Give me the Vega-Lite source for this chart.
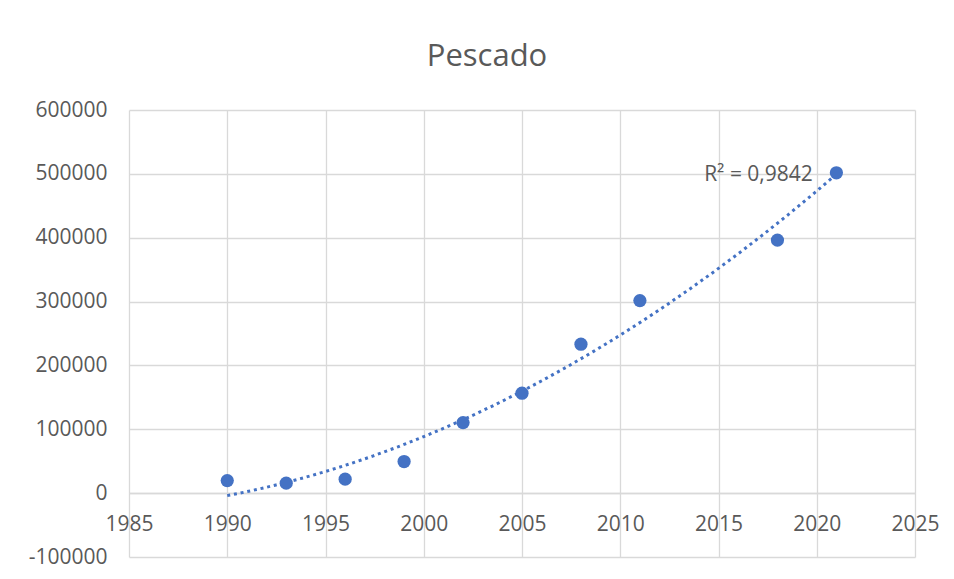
{
  "$schema": "https://vega.github.io/schema/vega-lite/v6.json",
  "width": 786,
  "height": 447,
  "autosize": "none",
  "padding": {"left": 129, "top": 110, "right": 39, "bottom": 22},
  "background": "white",
  "config": {
    "font": "Open Sans",
    "view": {"stroke": null},
    "axis": {
      "labelFont": "Open Sans",
      "labelFontSize": 21,
      "labelColor": "#595959",
      "gridColor": "#d9d9d9",
      "gridWidth": 1.3,
      "domainColor": "#d9d9d9",
      "domainWidth": 1.3,
      "ticks": false,
      "title": null
    }
  },
  "title": {
    "text": "Pescado",
    "font": "Open Sans",
    "fontSize": 31,
    "fontWeight": "normal",
    "color": "#595959",
    "anchor": "middle",
    "dx": -35,
    "offset": 26
  },
  "datasets": {
    "pts": [
      {"year": 1990, "value": 19700},
      {"year": 1993, "value": 15600},
      {"year": 1996, "value": 21900},
      {"year": 1999, "value": 49500},
      {"year": 2002, "value": 110500},
      {"year": 2005, "value": 156500},
      {"year": 2008, "value": 233200},
      {"year": 2011, "value": 301500},
      {"year": 2018, "value": 396300},
      {"year": 2021, "value": 501700}
    ],
    "lbl": [
      {"year": 2019.8, "value": 498000, "label": "R² = 0,9842"}
    ]
  },
  "layer": [
    {
      "data": {"name": "pts"},
      "transform": [
        {"regression": "value", "on": "year", "method": "poly", "order": 2, "extent": [1990, 2021]}
      ],
      "mark": {"type": "line", "color": "#4472C4", "strokeWidth": 3, "strokeDash": [3, 3.8], "strokeCap": "butt"},
      "encoding": {
        "x": {
          "field": "year", "type": "quantitative",
          "scale": {"domain": [1985, 2025], "nice": false, "zero": false},
          "axis": {"values": [1985, 1990, 1995, 2000, 2005, 2010, 2015, 2020, 2025], "format": "d", "offset": -64, "labelPadding": 20, "labelFlush": false, "labelOverlap": false}
        },
        "y": {
          "field": "value", "type": "quantitative",
          "scale": {"domain": [-100000, 600000], "nice": false, "zero": false},
          "axis": {"values": [-100000, 0, 100000, 200000, 300000, 400000, 500000, 600000], "format": "d", "labelExpr": "replace(datum.label, '\u2212', '-')", "labelPadding": 22, "domain": false, "labelFlush": false, "labelOverlap": false}
        }
      }
    },
    {
      "data": {"name": "pts"},
      "mark": {"type": "point", "filled": true, "opacity": 1, "color": "#4472C4", "size": 175, "shape": "circle"},
      "encoding": {
        "x": {"field": "year", "type": "quantitative"},
        "y": {"field": "value", "type": "quantitative"}
      }
    },
    {
      "data": {"name": "lbl"},
      "mark": {"type": "text", "align": "right", "baseline": "middle", "font": "Open Sans", "fontSize": 21, "color": "#595959"},
      "encoding": {
        "x": {"field": "year", "type": "quantitative"},
        "y": {"field": "value", "type": "quantitative"},
        "text": {"field": "label"}
      }
    }
  ]
}
